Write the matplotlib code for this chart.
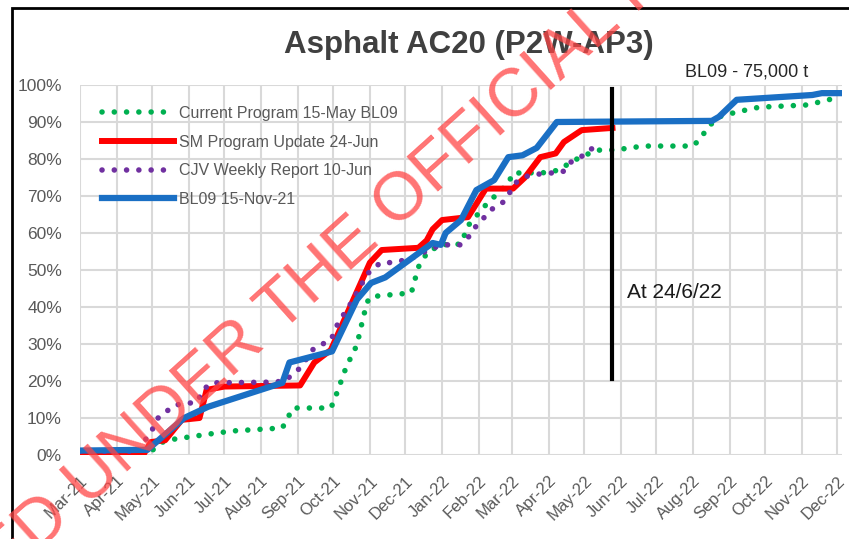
# grafica de avance acumulado asfalto AC20
import pandas as pd
import numpy as np
import matplotlib
matplotlib.use('Agg')
import matplotlib.pyplot as plt
import matplotlib.dates as mdates
from matplotlib.patches import Rectangle

# current program 15-may BL09
fechasVerde = ['2021-03-01', '2021-04-30', '2021-05-10', '2021-05-20', '2021-06-19', '2021-07-08',
               '2021-08-19', '2021-08-28', '2021-09-29', '2021-10-02', '2021-10-12', '2021-10-21',
               '2021-10-27', '2021-10-31', '2021-11-08', '2021-12-06', '2021-12-12', '2021-12-20',
               '2022-01-01', '2022-01-17', '2022-01-23', '2022-02-07', '2022-02-26', '2022-03-02',
               '2022-03-28', '2022-04-10', '2022-04-19', '2022-04-28', '2022-05-12', '2022-05-23',
               '2022-06-02', '2022-06-20', '2022-08-01', '2022-08-08', '2022-08-13', '2022-08-23',
               '2022-09-07', '2022-09-26', '2022-11-05', '2022-11-16', '2022-11-26', '2022-12-03']
valoresVerde = [1.0, 1.0, 3.5, 4.3, 5.7, 6.5,
                7.3, 12.7, 12.7, 14.9, 23.8, 29.7,
                38.0, 42.4, 43.0, 43.8, 50.8, 55.0,
                56.8, 57.0, 62.0, 67.6, 73.5, 76.2,
                76.3, 77.0, 79.0, 80.5, 82.4, 82.4,
                82.7, 83.5, 83.5, 85.7, 88.4, 91.4,
                92.7, 94.0, 94.6, 95.4, 96.2, 96.5]

# SM program update 24-jun
fechasRojo = ['2021-03-01', '2021-04-24', '2021-04-30', '2021-05-12', '2021-05-26', '2021-06-10',
              '2021-06-16', '2021-07-01', '2021-09-03', '2021-09-15', '2021-09-29', '2021-11-01',
              '2021-11-11', '2021-12-12', '2021-12-19', '2021-12-24', '2022-01-01', '2022-01-23',
              '2022-02-07', '2022-03-02', '2022-03-12', '2022-03-25', '2022-04-07', '2022-04-14',
              '2022-04-29', '2022-05-25']
valoresRojo = [0.3, 0.3, 3.5, 4.0, 9.5, 10.0,
               17.6, 18.5, 18.8, 25.0, 28.4, 52.0,
               55.4, 56.0, 58.0, 61.0, 63.5, 64.3,
               72.0, 72.0, 75.0, 80.5, 81.5, 84.6,
               87.8, 88.4]

# CJV weekly report 10-jun
fechasMorado = ['2021-03-01', '2021-04-21', '2021-04-25', '2021-05-01', '2021-05-06', '2021-05-20',
                '2021-06-08', '2021-06-13', '2021-06-20', '2021-08-11', '2021-08-21', '2021-09-03',
                '2021-09-15', '2021-09-29', '2021-10-05', '2021-10-15', '2021-10-30', '2021-11-10',
                '2021-11-20', '2021-12-05', '2021-12-18', '2021-12-31', '2022-01-17', '2022-01-25',
                '2022-01-30', '2022-02-14', '2022-02-22', '2022-03-05', '2022-03-16', '2022-04-13',
                '2022-04-19', '2022-05-04', '2022-05-12']
valoresMorado = [1.0, 1.0, 4.0, 6.8, 10.0, 13.5,
                 14.3, 17.6, 19.5, 19.7, 20.0, 23.5,
                 29.0, 31.0, 35.6, 40.5, 49.0, 52.0,
                 52.0, 53.0, 55.0, 56.8, 56.8, 59.5,
                 62.0, 67.0, 68.4, 73.8, 75.7, 76.5,
                 79.0, 81.6, 84.3]

# BL09 15-nov-21
fechasAzul = ['2021-03-01', '2021-04-27', '2021-05-28', '2021-06-17', '2021-08-19', '2021-08-25',
              '2021-09-30', '2021-10-21', '2021-11-02', '2021-11-14', '2021-12-24', '2021-12-31',
              '2022-01-04', '2022-01-17', '2022-01-30', '2022-02-14', '2022-02-26', '2022-03-10',
              '2022-03-22', '2022-04-08', '2022-08-17', '2022-08-23', '2022-09-07', '2022-11-10',
              '2022-11-18', '2022-12-03']
valoresAzul = [1.2, 1.4, 10.0, 13.0, 19.5, 25.0,
               28.0, 42.0, 46.5, 48.0, 57.3, 56.8,
               60.0, 63.5, 71.6, 74.3, 80.5, 81.0,
               83.0, 90.0, 90.3, 91.4, 96.0, 97.3,
               97.8, 97.8]

etiquetas = ['Current Program 15-May BL09', 'SM Program Update 24-Jun',
             'CJV Weekly Report 10-Jun', 'BL09 15-Nov-21']

# linea de corte
fechaCorte = '2022-05-25'
rangoCorte = [20.5, 99.0]


def main():
    plt.rcParams['font.family'] = ['Liberation Sans', 'DejaVu Sans']
    fig = plt.figure(figsize=(8.49, 5.39), dpi=100)
    ax = fig.add_axes([80/849, 84/539, 762/849, 370/539])

    # series
    ax.plot(pd.to_datetime(fechasVerde), valoresVerde, color='#00B050', lw=4,
            linestyle=(0, (0.01, 2.2)), dash_capstyle='round', label=etiquetas[0], zorder=3)
    ax.plot(pd.to_datetime(fechasRojo), valoresRojo, color='#FF0000', lw=4.3,
            solid_joinstyle='round', label=etiquetas[1], zorder=4)
    ax.plot(pd.to_datetime(fechasMorado), valoresMorado, color='#7030A0', lw=4,
            linestyle=(0, (0.01, 2.2)), dash_capstyle='round', label=etiquetas[2], zorder=5)
    ax.plot(pd.to_datetime(fechasAzul), valoresAzul, color='#1A6FC4', lw=4.5,
            solid_joinstyle='round', label=etiquetas[3], zorder=6)

    # linea vertical
    ax.plot(pd.to_datetime([fechaCorte, fechaCorte]), rangoCorte, color='black', lw=3,
            zorder=7, clip_on=False)
    ax.text(pd.Timestamp('2022-06-06'), 43.8, 'At 24/6/22', fontsize=15, color='#1a1a1a',
            va='center', ha='left')
    ax.text(pd.Timestamp('2022-07-25'), 103.5, 'BL09 - 75,000 t', fontsize=13, color='#262626',
            va='center', ha='left', clip_on=False)

    # ejes
    ax.set_xlim(pd.Timestamp('2021-03-01'), pd.Timestamp('2022-12-05'))
    ax.set_ylim(0, 100)
    ax.set_yticks(np.arange(0, 101, 10))
    ax.yaxis.set_major_formatter(plt.FuncFormatter(lambda v, p: f'{v:.0f}%'))
    meses = pd.date_range('2021-03-01', '2022-12-01', freq='MS')
    ax.set_xticks(meses)
    ax.xaxis.set_major_formatter(mdates.DateFormatter('%b-%y'))
    ax.tick_params(axis='y', length=0, pad=13, labelsize=12.5, labelcolor='#595959')
    ax.tick_params(axis='x', length=0, pad=13, labelsize=12, labelcolor='#595959')
    for lbl in ax.get_xticklabels():
        lbl.set_rotation(45)
        lbl.set_ha('right')
        lbl.set_va('top')
        lbl.set_rotation_mode('anchor')
    ax.grid(True, color='#D9D9D9', lw=1.5)
    ax.set_axisbelow(True)
    for s in ax.spines.values():
        s.set_visible(False)

    leg = ax.legend(loc='upper left', bbox_to_anchor=(0.01, 0.982), frameon=False,
                    fontsize=11.5, handlelength=4.5, handletextpad=0.3, labelspacing=0.85)
    for t in leg.get_texts():
        t.set_color('#595959')

    # titulo
    fig.text(469/849, 1 - 45/539, 'Asphalt AC20 (P2W-AP3)', fontsize=22.5, fontweight='bold',
             color='#404040', ha='center', va='center')

    # marco
    fig.patches.append(Rectangle((12/849, -0.1), 1.2, 1 - 8/539 + 0.1, transform=fig.transFigure,
                                 fill=False, edgecolor='black', lw=2))

    # marca de agua
    fig.text(438/849, 1 - 168/539, 'RELEASED UNDER THE OFFICIAL INFORMATION ACT', fontsize=49,
             color='#FF4545', alpha=0.75, rotation=42, rotation_mode='anchor',
             ha='center', va='center', zorder=20)

    fig.savefig('out.png', dpi=100)


if __name__ == "__main__":
    main()
